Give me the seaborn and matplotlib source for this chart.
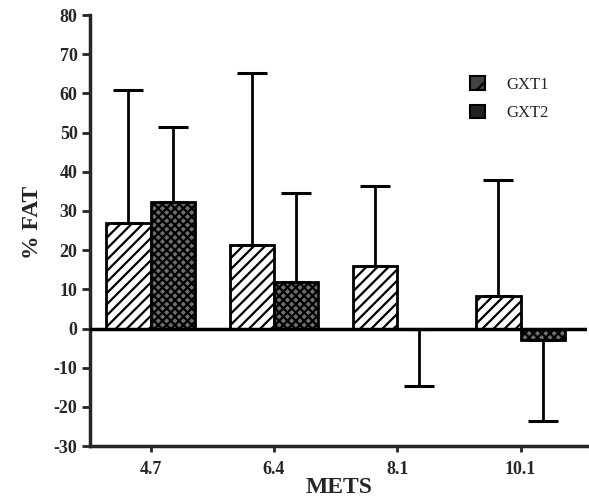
import pandas as pd
import seaborn as sns
import matplotlib.pyplot as plt
from matplotlib.patches import Patch

mets = ['4.7', '6.4', '8.1', '10.1']
gxt1 = [26.9, 21.4, 15.9, 8.2]
gxt2 = [32.2, 11.8, 0.0, -3.0]
# where each error bar ends
gxt1_err_end = [61.0, 65.1, 36.5, 37.8]
gxt2_err_end = [51.5, 34.5, -14.8, -23.6]

data = pd.DataFrame({
    'METS': mets * 2,
    'FAT': gxt1 + gxt2,
    'test': ['GXT1'] * 4 + ['GXT2'] * 4,
})

sns.set_style('ticks')
plt.rcParams['font.family'] = ['Liberation Serif', 'DejaVu Serif']
plt.rcParams['axes.unicode_minus'] = False
plt.rcParams['hatch.linewidth'] = 1.6

fig = plt.figure(figsize=(5.89, 5.04), dpi=100)
ax = fig.add_axes([0.153, 0.115, 0.844, 0.855])

sns.barplot(data=data, x='METS', y='FAT', hue='test', order=mets,
            palette=['white', '#6e6e6e'], width=0.72, dodge=True,
            errorbar=None, legend=False, ax=ax)

hatches = ['///', 'xxxx']
ends = [gxt1_err_end, gxt2_err_end]
for cont, h, vals, end in zip(ax.containers, hatches, [gxt1, gxt2], ends):
    for bar, v, e in zip(cont, vals, end):
        bar.set_hatch(h)
        bar.set_edgecolor('black')
        bar.set_linewidth(2)
        xc = bar.get_x() + bar.get_width() / 2
        ax.errorbar([xc], [v], yerr=[[max(v - e, 0)], [max(e - v, 0)]],
                    fmt='none', ecolor='black', elinewidth=2,
                    capsize=11, capthick=2.2, zorder=1)

ax.axhline(0, color='black', lw=2.5, zorder=3)
ax.set_ylim(-30, 80)
ax.set_xlim(-0.49, 3.54)
ax.set_yticks(range(-30, 81, 10))
sns.despine(ax=ax)
for s in ['left', 'bottom']:
    ax.spines[s].set_linewidth(2.5)
ax.tick_params(axis='y', length=6, width=2, labelsize=13, pad=3)
ax.tick_params(axis='x', length=4, width=2, labelsize=13, pad=7)
for lab in ax.get_xticklabels() + ax.get_yticklabels():
    lab.set_fontweight('bold')

ax.set_ylabel('% FAT', fontsize=17, fontweight='bold')
ax.yaxis.set_label_coords(-0.094, 0.52)
ax.set_xlabel('METS', fontsize=17, fontweight='bold', labelpad=-1)

handles = [Patch(facecolor='#444444', edgecolor='black', hatch='/', lw=1.5),
           Patch(facecolor='#222222', edgecolor='black', lw=1.5)]
ax.legend(handles, ['GXT1', 'GXT2'], loc='upper left',
          bbox_to_anchor=(0.733, 0.893), frameon=False, fontsize=12,
          handlelength=0.9, handleheight=0.9, handletextpad=1.3,
          labelspacing=0.7)

fig.savefig('out.png', dpi=100)
